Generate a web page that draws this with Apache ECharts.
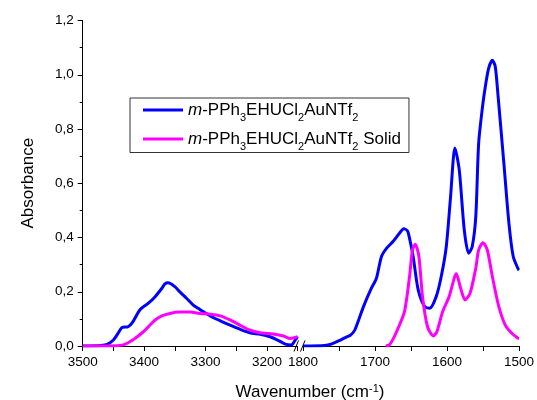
<!DOCTYPE html>
<html>
<head>
<meta charset="utf-8">
<script src="https://cdn.jsdelivr.net/npm/echarts@6/dist/echarts.min.js"></script>
<style>
html,body{margin:0;padding:0;background:#fff;}
#chart{width:537px;height:400px;}
</style>
</head>
<body>
<div id="chart"></div>
<script>
// ---- data (wavenumber cm-1, absorbance) ----
const seriesNames = ['m-PPh3EHUCl2AuNTf2', 'm-PPh3EHUCl2AuNTf2 Solid'];
const xTicksLeft = [3500, 3400, 3300, 3200];
const xTicksRight = [1800, 1700, 1600, 1500];
const yTicks = [0, 0.2, 0.4, 0.6, 0.8, 1.0, 1.2];

const blueLeft = [[3500,0],[3470,0.002],[3460,0.006],[3450,0.022],[3443,0.045],[3436,0.068],[3426,0.071],[3418,0.09],[3407,0.133],[3393,0.158],[3382,0.182],[3371,0.213],[3366,0.229],[3361,0.233],[3350,0.219],[3342,0.2],[3331,0.176],[3320,0.151],[3312,0.139],[3304,0.127],[3290,0.108],[3276,0.093],[3260,0.077],[3244,0.062],[3228,0.049],[3211,0.043],[3195,0.034],[3181,0.02],[3170,0.007],[3160,0.004],[3154,0.022],[3150,0.034]];
const magentaLeft = [[3500,0],[3445,0.001],[3434,0.004],[3426,0.012],[3415,0.028],[3404,0.047],[3393,0.071],[3382,0.096],[3371,0.111],[3358,0.12],[3342,0.125],[3325,0.125],[3309,0.12],[3292,0.117],[3276,0.111],[3260,0.096],[3244,0.077],[3228,0.059],[3211,0.049],[3190,0.044],[3173,0.037],[3162,0.028],[3150,0.034]];
const blueRight = [[1800,0],[1770,0.002],[1760,0.008],[1748,0.022],[1739,0.034],[1734,0.04],[1728,0.059],[1716,0.145],[1705,0.213],[1698,0.25],[1691,0.33],[1684,0.36],[1675,0.385],[1666,0.416],[1660,0.432],[1655,0.425],[1652,0.397],[1647,0.33],[1640,0.207],[1631,0.145],[1624,0.139],[1615,0.182],[1608,0.256],[1601,0.366],[1595,0.551],[1589,0.73],[1583,0.65],[1576,0.428],[1570,0.342],[1565,0.366],[1560,0.477],[1556,0.748],[1550,0.896],[1546,0.969],[1542,1.025],[1537,1.053],[1533,1.031],[1529,0.92],[1521,0.674],[1514,0.453],[1508,0.33],[1501,0.283],[1500,0.28]];
const magentaRight = [[1685,0],[1680,0.004],[1674,0.03],[1668,0.065],[1659,0.127],[1652,0.256],[1648,0.354],[1644,0.375],[1639,0.33],[1634,0.182],[1627,0.071],[1619,0.037],[1614,0.053],[1606,0.127],[1597,0.182],[1587,0.266],[1581,0.213],[1575,0.17],[1568,0.194],[1560,0.287],[1556,0.354],[1550,0.381],[1544,0.354],[1537,0.256],[1528,0.145],[1519,0.077],[1510,0.047],[1501,0.028],[1500,0.027]];

// ---- layout ----
const FONT = '"Liberation Sans", Arial, sans-serif';
const G_TOP = 20.5, G_BOTTOM = 346;
const L_LEFT = 82.7, L_RIGHT = 297.6;
const R_LEFT = 303, R_RIGHT = 521;
const BLUE = '#0000ff', MAG = '#ff00ff';

const chart = echarts.init(document.getElementById('chart'), null, {renderer: 'canvas'});

function xAxisCfg(gridIndex, min, max, ticks) {
  return {
    type: 'value', gridIndex: gridIndex, min: min, max: max, interval: 50, inverse: true,
    axisLine: {show: true, onZero: false, lineStyle: {color: '#000', width: 1}},
    axisTick: {show: true, inside: false, length: 5, lineStyle: {color: '#000', width: 1}},
    axisLabel: {
      color: '#000', fontFamily: FONT, fontSize: 13.5, margin: 9,
      formatter: function (v) { return ticks.indexOf(v) >= 0 ? String(v) : ''; }
    },
    splitLine: {show: false}
  };
}

const option = {
  animation: false,
  backgroundColor: '#fff',
  grid: [
    {left: L_LEFT, top: G_TOP, width: L_RIGHT - L_LEFT, height: G_BOTTOM - G_TOP, containLabel: false},
    {left: R_LEFT, top: G_TOP, width: R_RIGHT - R_LEFT, height: G_BOTTOM - G_TOP, containLabel: false}
  ],
  xAxis: [
    xAxisCfg(0, 3150, 3500, xTicksLeft),
    xAxisCfg(1, 1500, 1800, xTicksRight)
  ],
  yAxis: [
    {
      type: 'value', gridIndex: 0, min: 0, max: 1.2, interval: 0.2,
      name: 'Absorbance', nameLocation: 'middle', nameGap: 46, nameRotate: 90,
      nameTextStyle: {color: '#000', fontFamily: FONT, fontSize: 17},
      axisLine: {show: true, lineStyle: {color: '#000', width: 1}},
      axisTick: {show: true, inside: false, length: 5, lineStyle: {color: '#000'}},
      minorTick: {show: true, splitNumber: 2, length: 3, lineStyle: {color: '#000'}},
      axisLabel: {
        color: '#000', fontFamily: FONT, fontSize: 13.5, margin: 9,
        formatter: function (v) { return yTicks.some(t => Math.abs(t - v) < 1e-9) ? v.toFixed(1).replace('.', ',') : ''; }
      },
      splitLine: {show: false}
    },
    {
      type: 'value', gridIndex: 1, min: 0, max: 1.2, interval: 0.2, show: false,
      splitLine: {show: false}
    }
  ],
  legend: {
    orient: 'vertical', left: 130, top: 98,
    padding: [3.5, 8, 0, 13], itemGap: 7,
    icon: 'rect', itemWidth: 40, itemHeight: 3,
    backgroundColor: '#fff', borderColor: '#333', borderWidth: 1, borderRadius: 0,
    data: seriesNames,
    textStyle: {
      color: '#000', fontFamily: FONT, fontSize: 17,
      rich: {
        n: {color: '#000', fontFamily: FONT, fontSize: 17, lineHeight: 17, verticalAlign: 'top'},
        i: {color: '#000', fontFamily: FONT, fontSize: 17, fontStyle: 'italic', lineHeight: 17, verticalAlign: 'top'},
        s: {color: '#000', fontFamily: FONT, fontSize: 11, lineHeight: 10, verticalAlign: 'top', padding: [11, 0, 0, 0]}
      }
    },
    formatter: function (name) {
      const base = '{i|m}{n|-PPh}{s|3}{n|EHUCl}{s|2}{n|AuNTf}{s|2}';
      return name === seriesNames[1] ? base + '{n| Solid}' : base;
    }
  },
  graphic: [
    {
      type: 'text', x: 310, y: 392, silent: true,
      style: {
        text: '{n|Wavenumber (cm}{p|-1}{n|)}',
        align: 'center', verticalAlign: 'middle',
        fill: '#000', fontFamily: FONT, fontSize: 17,
        rich: {
          n: {fill: '#000', fontFamily: FONT, fontSize: 17, lineHeight: 18},
          p: {fill: '#000', fontFamily: FONT, fontSize: 11, lineHeight: 10, verticalAlign: 'top'}
        }
      }
    },
    {type: 'line', silent: true, z: 100, shape: {x1: 294, y1: 351.5, x2: 298.5, y2: 340.5}, style: {stroke: '#000', lineWidth: 1}},
    {type: 'line', silent: true, z: 100, shape: {x1: 300.5, y1: 351.5, x2: 305, y2: 340.5}, style: {stroke: '#000', lineWidth: 1}}
  ],
  series: [
    {name: seriesNames[0], type: 'line', xAxisIndex: 0, yAxisIndex: 0, data: blueLeft, smooth: 0.25, symbol: 'none', lineStyle: {color: BLUE, width: 3}, itemStyle: {color: BLUE}, z: 2},
    {name: seriesNames[1], type: 'line', xAxisIndex: 0, yAxisIndex: 0, data: magentaLeft, smooth: 0.25, symbol: 'none', lineStyle: {color: MAG, width: 3}, itemStyle: {color: MAG}, z: 3},
    {name: seriesNames[0], type: 'line', xAxisIndex: 1, yAxisIndex: 1, data: blueRight, smooth: 0.25, symbol: 'none', lineStyle: {color: BLUE, width: 3}, itemStyle: {color: BLUE}, z: 2},
    {name: seriesNames[1], type: 'line', xAxisIndex: 1, yAxisIndex: 1, data: magentaRight, smooth: 0.25, symbol: 'none', lineStyle: {color: MAG, width: 3}, itemStyle: {color: MAG}, z: 3}
  ]
};
chart.setOption(option);
</script>
</body>
</html>
